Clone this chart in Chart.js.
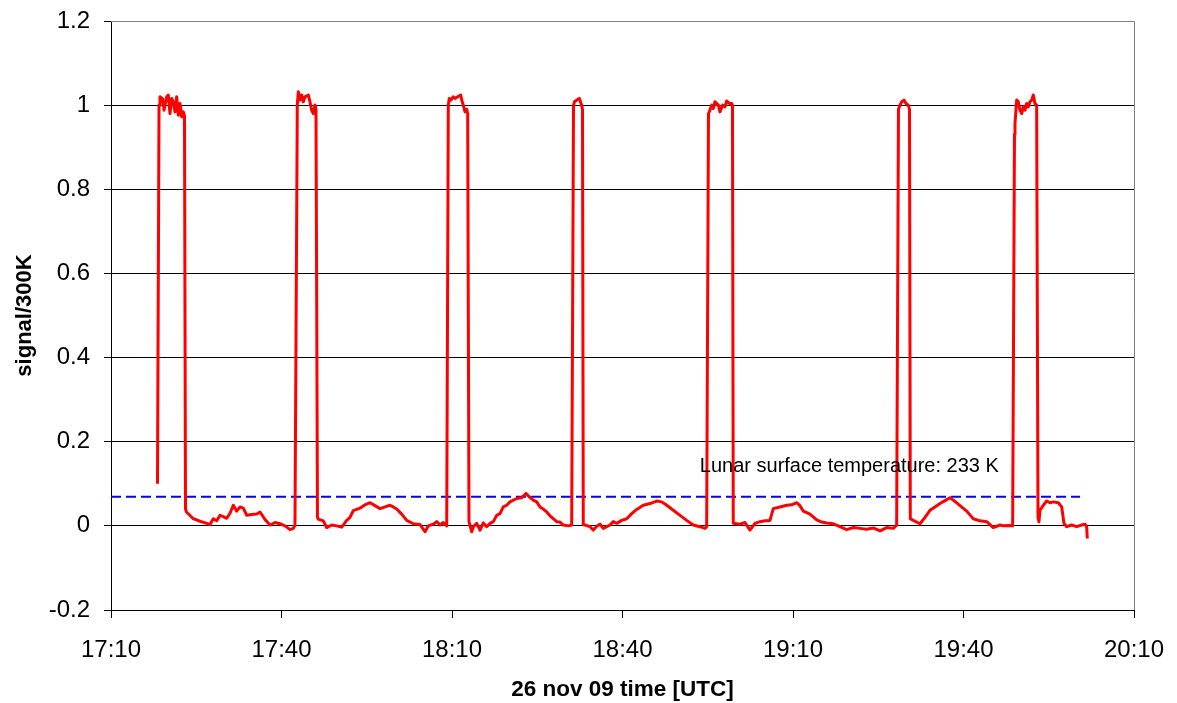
<!DOCTYPE html>
<html>
<head>
<meta charset="utf-8">
<title>signal/300K</title>
<script src="https://cdn.jsdelivr.net/npm/chart.js@4.4.1/dist/chart.umd.min.js"></script>
<style>
  html, body { margin: 0; padding: 0; background: #fff; }
  canvas { display: block; }
</style>
</head>
<body>
<canvas id="chart" width="1177" height="703"></canvas>
<script>
// time in minutes after 17:00 UTC, 26 nov 09
const timeMin = [
  18.18, 18.45, 18.62, 19.10, 19.33, 19.80, 20.08, 20.38, 20.68, 20.96, 21.26, 21.56, 21.84, 22.14, 22.44, 22.72, 22.93,
  23.11, 23.28, 24.48, 25.66, 26.84, 27.42, 28.00, 28.60, 29.18, 29.76, 30.36, 30.94, 31.52, 32.12, 32.70, 33.28, 33.88, 34.76, 35.64, 36.22, 37.10, 37.98, 38.86, 39.74, 40.62, 41.50, 42.08, 42.37,
  42.78, 42.96, 43.25, 43.55, 43.84, 44.13, 44.72, 45.01, 45.31, 45.60, 45.89, 46.07,
  46.33, 46.47, 47.35, 47.95, 48.83, 49.71, 50.59, 51.47, 52.05, 52.63, 53.81, 54.69, 55.57, 56.45, 57.33, 58.21, 59.09, 59.67, 60.27, 61.15, 62.03, 63.19, 64.37, 65.25, 65.83, 66.71, 67.31, 67.89, 68.47, 69.07,
  69.35, 69.52, 69.82, 70.23, 70.53, 71.53, 71.76, 71.99, 72.29, 72.59, 72.76,
  72.99, 73.47, 73.75, 74.34, 74.93, 75.51, 76.10, 76.69, 77.27, 77.86, 78.44, 79.03, 79.62, 80.20, 81.38, 82.26, 83.02, 83.60, 84.30, 84.90, 85.48, 86.06, 86.66, 87.24, 87.82, 88.42, 89.00, 89.58, 90.46, 91.06,
  91.38, 91.55, 91.94, 92.40, 92.82, 92.96,
  93.10, 93.40, 94.28, 94.86, 95.46, 96.04, 96.62, 97.22, 97.80, 98.38, 98.98, 99.86, 100.74, 101.62, 102.50, 103.66, 104.84, 106.02, 106.90, 107.78, 108.94, 110.12, 111.29, 112.46, 113.63, 114.51, 114.81,
  115.13, 115.27, 115.69, 115.97, 116.27, 116.86, 117.15, 117.63, 118.03, 118.33, 118.79, 119.21, 119.35,
  119.49, 120.67, 121.55, 122.43, 123.31, 124.19, 125.07, 125.95, 126.53, 127.71, 128.89, 129.77, 130.65, 131.23, 131.81, 132.99, 134.17, 135.05, 135.93, 137.09, 138.27, 139.45, 140.61, 141.79, 142.97, 144.13, 145.31, 146.49, 147.65, 148.24,
  148.56, 148.82, 149.13, 149.53, 149.88, 150.28, 150.50,
  150.64, 151.16, 152.34, 153.22, 154.10, 154.98, 155.86, 156.74, 157.62, 158.50, 159.38, 160.56, 161.72, 162.90, 164.08, 165.24, 166.42, 167.00, 167.88, 168.65,
  168.97, 169.06, 169.36, 169.64, 169.94, 170.24, 170.52, 170.82, 171.12, 171.40, 171.70, 172.00, 172.28, 172.58, 172.87,
  173.11, 173.28, 173.46, 174.04, 174.64, 175.22, 175.80, 176.68, 177.28, 177.68, 178.16, 179.03, 179.91, 180.79, 181.38, 181.67, 181.78
];

const signal = [
  0.10, 1.00, 1.02, 1.015, 0.988, 1.02, 1.024, 0.98, 1.016, 1.008, 0.984, 1.02, 0.976, 1.004, 0.972, 0.984, 0.975,
  0.04, 0.033, 0.017, 0.011, 0.006, 0.003, 0.017, 0.012, 0.025, 0.022, 0.018, 0.03, 0.049, 0.035, 0.045, 0.042, 0.025, 0.027, 0.028, 0.033, 0.015, 0.002, 0.008, 0.005, 0.0, -0.009, -0.006, 0.002,
  1.0, 1.032, 1.012, 1.024, 1.008, 1.02, 1.024, 1.008, 0.988, 0.98, 1.0, 0.99,
  0.02, 0.016, 0.012, -0.004, 0.002, 0.0, -0.003, 0.013, 0.02, 0.036, 0.042, 0.05, 0.055, 0.048, 0.041, 0.045, 0.049, 0.045, 0.04, 0.028, 0.013, 0.005, 0.003, -0.014, 0.0, 0.004, 0.01, 0.002, 0.008, 0.0,
  1.0, 1.016, 1.012, 1.02, 1.016, 1.024, 1.01, 1.0, 0.984, 0.99, 0.98,
  0.01, -0.014, -0.002, 0.006, -0.01, 0.007, -0.002, 0.006, 0.01, 0.025, 0.029, 0.045, 0.049, 0.057, 0.065, 0.067, 0.077, 0.069, 0.061, 0.057, 0.045, 0.04, 0.033, 0.024, 0.017, 0.01, 0.009, 0.002, 0.0, 0.002,
  1.0, 1.008, 1.012, 1.016, 1.0, 0.99,
  0.003, 0.002, -0.002, -0.010, -0.001, 0.004, -0.006, -0.002, 0.002, 0.01, 0.006, 0.013, 0.017, 0.029, 0.039, 0.049, 0.053, 0.059, 0.057, 0.049, 0.037, 0.025, 0.013, 0.002, -0.002, -0.006, -0.002,
  0.98, 0.984, 1.0, 0.992, 1.008, 1.0, 0.984, 1.0, 0.996, 1.01, 1.004, 1.004, 1.0,
  0.006, 0.004, 0.008, -0.01, 0.006, 0.01, 0.012, 0.013, 0.041, 0.045, 0.049, 0.05, 0.055, 0.048, 0.035, 0.028, 0.014, 0.009, 0.007, 0.005, -0.002, -0.009, -0.004, -0.006, -0.008, -0.005, -0.012, -0.004, -0.006, 0.002,
  0.99, 1.0, 1.008, 1.012, 1.004, 1.0, 0.99,
  0.017, 0.013, 0.005, 0.02, 0.037, 0.045, 0.053, 0.06, 0.067, 0.058, 0.048, 0.035, 0.017, 0.012, 0.01, -0.004, 0.002, 0.0, 0.001, 0.0,
  0.93, 0.956, 1.012, 1.008, 0.988, 0.98, 0.996, 0.988, 1.004, 0.996, 1.008, 1.012, 1.024, 1.004, 1.0,
  0.02, 0.0095, 0.037, 0.049, 0.059, 0.055, 0.057, 0.055, 0.045, 0.006, -0.002, 0.002, -0.002, 0.002, 0.004, -0.002, -0.03
];

// lunar surface level (233 K / 300 K scale) and where it is drawn
const lunarLevel = 0.069;
const lunarSpan = [10, 180.5];
const lunarLabel = 'Lunar surface temperature: 233 K';
const lunarLabelAt = [113.6, 0.14];

const xTicks = [10, 40, 70, 100, 130, 160, 190];
const xTickLabels = ['17:10', '17:40', '18:10', '18:40', '19:10', '19:40', '20:10'];
const yTicks = [-0.2, 0, 0.2, 0.4, 0.6, 0.8, 1, 1.2];
const yTickLabels = ['-0.2', '0', '0.2', '0.4', '0.6', '0.8', '1', '1.2'];

const FONT = 'Liberation Sans, Arial, sans-serif';

const signalPts = timeMin.map((t, i) => ({ x: t, y: signal[i] }));
const lunarPts = lunarSpan.map(t => ({ x: t, y: lunarLevel }));

// no automatic label padding, the layout padding sets the plot box
function noPad(s) {
  s.paddingTop = 0;
  s.paddingBottom = 0;
  s.paddingLeft = 0;
  s.paddingRight = 0;
}

// grey frame on top and right of the plot area
const framePlugin = {
  id: 'frame',
  beforeDatasetsDraw(chart) {
    const { ctx, chartArea: a } = chart;
    ctx.save();
    ctx.strokeStyle = '#808080';
    ctx.lineWidth = 1;
    ctx.beginPath();
    ctx.moveTo(a.left, a.top + 0.5);
    ctx.lineTo(a.right + 0.5, a.top + 0.5);
    ctx.lineTo(a.right + 0.5, a.bottom);
    ctx.stroke();
    ctx.restore();
  }
};

const notePlugin = {
  id: 'note',
  afterDatasetsDraw(chart) {
    const { ctx, scales } = chart;
    ctx.save();
    ctx.font = '20px ' + FONT;
    ctx.fillStyle = '#000';
    ctx.textAlign = 'left';
    ctx.textBaseline = 'middle';
    ctx.fillText(lunarLabel, scales.x.getPixelForValue(lunarLabelAt[0]), scales.y.getPixelForValue(lunarLabelAt[1]));
    ctx.restore();
  }
};

new Chart(document.getElementById('chart').getContext('2d'), {
  type: 'line',
  data: {
    datasets: [
      {
        label: 'signal',
        data: signalPts,
        borderColor: '#ff0000',
        borderWidth: 3,
        pointRadius: 0,
        tension: 0,
        borderJoinStyle: 'round'
      },
      {
        label: 'lunar',
        data: lunarPts,
        borderColor: '#0000ff',
        borderWidth: 2,
        borderDash: [10, 5],
        pointRadius: 0
      }
    ]
  },
  options: {
    responsive: false,
    animation: false,
    layout: { padding: { top: 21, right: 43, left: 0, bottom: 0 } },
    plugins: { legend: { display: false }, tooltip: { enabled: false } },
    scales: {
      x: {
        type: 'linear',
        min: 10,
        max: 190,
        afterBuildTicks: s => { s.ticks = xTicks.map(v => ({ value: v })); },
        afterFit: s => { s.height = 93; noPad(s); },
        grid: { drawOnChartArea: false, tickLength: 8, color: '#000' },
        border: { color: '#000' },
        ticks: {
          autoSkip: false,
          maxRotation: 0,
          padding: 18,
          color: '#000',
          font: { family: FONT, size: 24 },
          callback: (v, i) => xTickLabels[i]
        },
        title: {
          display: true,
          text: '26 nov 09 time [UTC]',
          color: '#000',
          font: { family: FONT, size: 22.5, weight: 'bold' },
          padding: { top: 0, bottom: 0 }
        }
      },
      y: {
        min: -0.2,
        max: 1.2,
        afterBuildTicks: s => { s.ticks = yTicks.map(v => ({ value: v })); },
        afterFit: s => { s.width = 111; noPad(s); },
        grid: {
          tickLength: 7,
          color: c => (c.tick && c.tick.value === 1.2 ? '#808080' : '#000'),
          tickColor: '#000'
        },
        border: { color: '#000' },
        ticks: {
          padding: 14,
          color: '#000',
          font: { family: FONT, size: 24 },
          callback: (v, i) => yTickLabels[i]
        },
        title: {
          display: true,
          text: 'signal/300K',
          color: '#000',
          font: { family: FONT, size: 22, weight: 'bold' },
          padding: { top: 12, bottom: 0 }
        }
      }
    }
  },
  plugins: [framePlugin, notePlugin]
});
</script>
</body>
</html>
